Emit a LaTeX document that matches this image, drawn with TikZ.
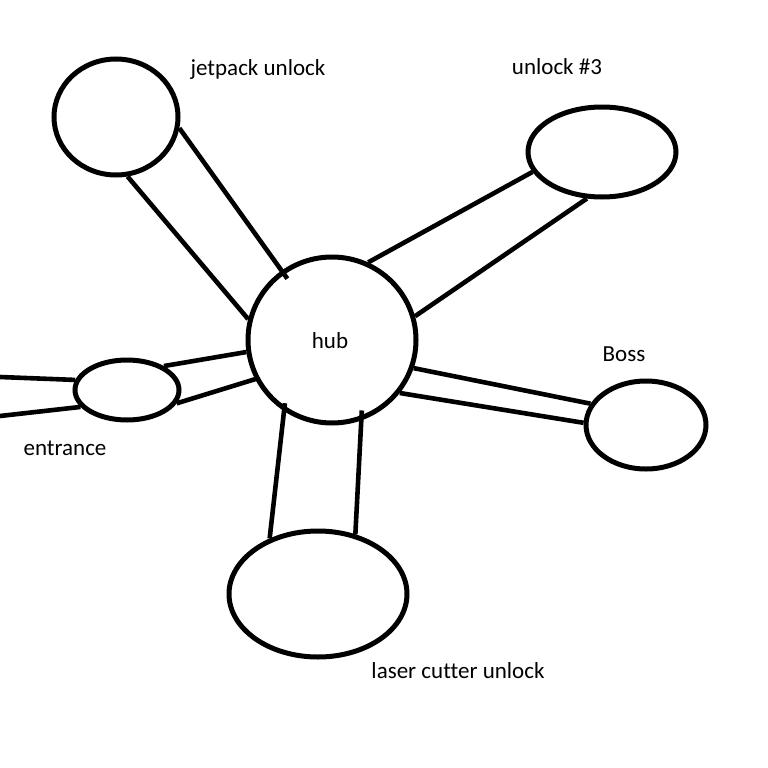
\documentclass[tikz,border=0pt]{standalone}
\usepackage{fontspec}
\setmainfont{Carlito}[Ligatures=NoCommon]
\usetikzlibrary{shapes.geometric}

\tikzset{
  room/.style={draw, ellipse, line width=5pt, inner sep=0pt},
  link/.style={line width=4.6pt},
  lbl/.style={font=\fontsize{23}{27}\selectfont, inner sep=0pt}
}

\begin{document}
\begin{tikzpicture}[x=1pt, y=-1pt]
    \useasboundingbox[fill=white] (0,0) rectangle (768,768);

    % Salas
    \node[room, minimum width=124pt, minimum height=116pt] (jet) at (116,117) {};
    \node[room, minimum width=148pt, minimum height=90pt] (three) at (602,152) {};
    \node[room, minimum width=168pt, minimum height=166pt] (hub) at (332,340) {};
    \node[room, minimum width=104pt, minimum height=60pt] (entr) at (127,390) {};
    \node[room, minimum width=120pt, minimum height=88pt] (boss) at (646,425) {};
    \node[room, minimum width=178pt, minimum height=126pt] (laser) at (318,594) {};

    % Textos
    \node[lbl] (tjet) at (258,69) {jetpack unlock};
    \node[lbl] (tthree) at (557,67) {unlock \#3};
    \node[lbl] (thub) at (330,341) {hub};
    \node[lbl] (tboss) at (624,354) {Boss};
    \node[lbl] (tentr) at (65,448) {entrance};
    \node[lbl] (tlaser) at (458,671) {laser cutter unlock};

    % Pasillos
    \draw[link] (jet.-79) -- (hub.166);
    \draw[link, shorten >=-10pt] (jet.-10) -- (hub.126);
    \draw[link] (three.196) -- (hub.65);
    \draw[link] (three.252) -- (hub.16);
    \draw[link] (entr.33) -- (hub.188);
    \draw[link, shorten >=-3pt] (entr.-15) -- (hub.207);
    \draw[link] (boss.159) -- (hub.-19);
    \draw[link] (boss.178) -- (hub.-38);
    \draw[link, shorten >=-8pt] (laser.131) -- (hub.236);
    \draw[link, shorten >=-10pt] (laser.58) -- (hub.290);

    % Entrada desde fuera
    \coordinate (out1) at (0,377);
    \coordinate (out2) at (0,416);
    \draw[link] (out1) -- (entr.169);
    \draw[link] (out2) -- (entr.200);
\end{tikzpicture}
\end{document}
